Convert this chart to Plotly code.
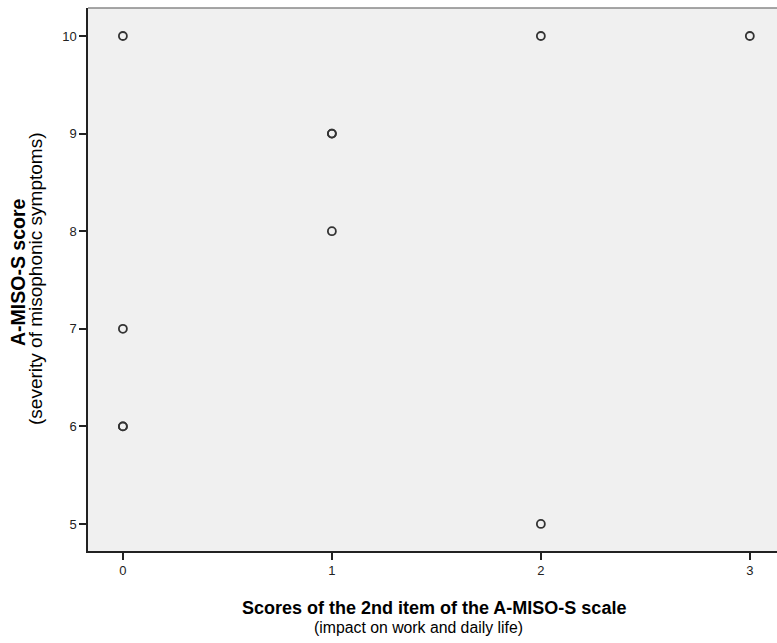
import plotly.graph_objects as go

item2_scores = [0, 0, 0, 0, 1, 1, 1, 2, 2, 3]
amiso_scores = [10, 7, 6, 6, 9, 9, 8, 10, 5, 10]
x_ticks = [0, 1, 2, 3]
y_ticks = [5, 6, 7, 8, 9, 10]

fig = go.Figure()
fig.add_trace(go.Scatter(
    x=item2_scores, y=amiso_scores, mode="markers",
    marker=dict(symbol="circle-open", size=8, color="#333333", line=dict(width=1.8, color="#333333")),
    showlegend=False, hoverinfo="skip",
))

font = "Liberation Sans, Arial, sans-serif"
W, H = 777, 643
L, R, T, B = 88, 0, 8, 92
fig.update_layout(
    width=W, height=H,
    margin=dict(l=L, r=R, t=T, b=B),
    paper_bgcolor="white", plot_bgcolor="#f0f0f0",
    font=dict(family=font, size=13, color="#222222"),
    xaxis=dict(range=[-0.167, 3.13], tickvals=x_ticks, ticks="outside", ticklen=7, tickwidth=1.5,
               tickcolor="#222222", showgrid=False, zeroline=False, automargin=False,
               showline=True, linecolor="#222222", linewidth=1.5),
    yaxis=dict(range=[4.723, 10.287], tickvals=y_ticks, ticks="outside", ticklen=7, tickwidth=1.5,
               tickcolor="#222222", showgrid=False, zeroline=False, automargin=False,
               showline=True, linecolor="#222222", linewidth=1.5),
    shapes=[dict(type="line", xref="paper", yref="paper", x0=0, x1=1, y0=1, y1=1,
                 line=dict(color="#888888", width=1.5))],
)

plot_h = H - T - B
plot_w = W - L - R
def px_x(px):
    return (px - L) / plot_w
def px_y(py):
    return (H - B - py) / plot_h

annots = [
    dict(text="<b>A-MISO-S score</b>", x=px_x(18), y=px_y(272), textangle=-90, size=19.5),
    dict(text="(severity of misophonic symptoms)", x=px_x(36), y=px_y(279), textangle=-90, size=19),
    dict(text="<b>Scores of the 2nd item of the A-MISO-S scale</b>", x=px_x(434), y=px_y(608), textangle=0, size=18),
    dict(text="(impact on work and daily life)", x=px_x(418), y=px_y(627), textangle=0, size=15.8),
]
for a in annots:
    fig.add_annotation(text=a["text"], x=a["x"], y=a["y"], xref="paper", yref="paper",
                       xanchor="center", yanchor="middle", textangle=a["textangle"],
                       showarrow=False, font=dict(family=font, size=a["size"], color="black"))

fig.write_html("out.html", config={"responsive": False, "displayModeBar": False},
               post_script="document.body.style.margin='0';document.body.style.overflow='hidden';")
